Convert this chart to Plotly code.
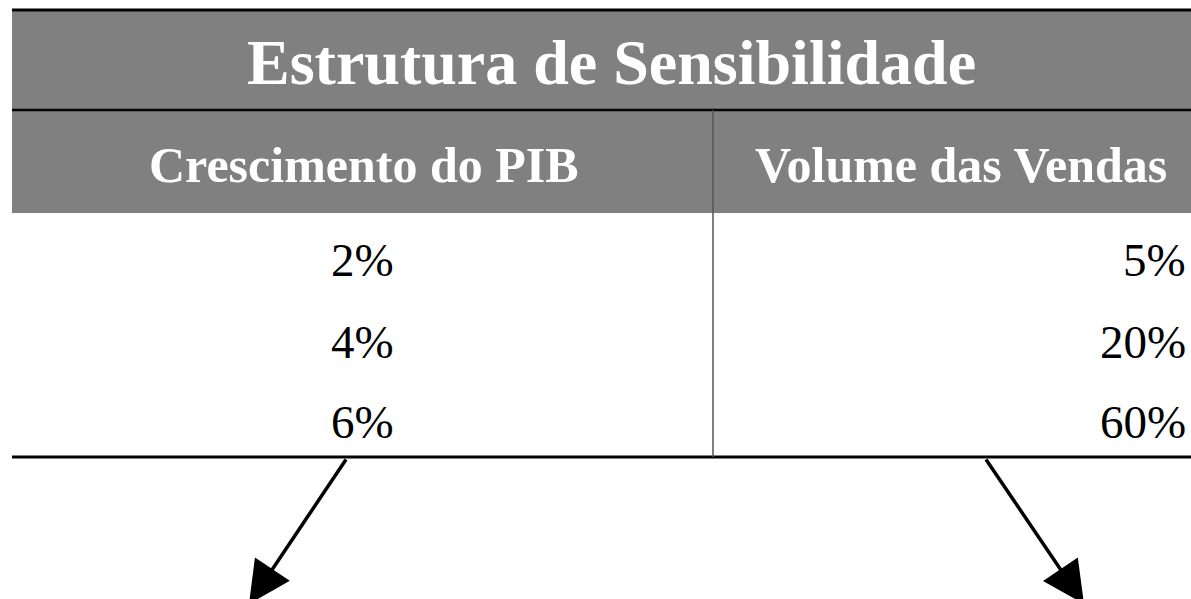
import plotly.graph_objects as go

title = "Estrutura de Sensibilidade"
headers = ["Crescimento do PIB", "Volume das Vendas"]
pib_growth = ["2%", "4%", "6%"]
sales_volume = ["5%", "20%", "60%"]

W, H = 1191, 599
FONT = "Liberation Serif, Times New Roman, serif"
GRAY = "#808080"

# table geometry (pixels, y measured from top)
left, right = 12, W + 5
y_top, y_head, y_sub, y_bottom = 10, 110, 213, 457
x_div = 713
row_y = [260, 342, 422]
col_center = 362
col_right = 1188

fig = go.Figure()

shapes = [
    dict(type="rect", x0=left, x1=right, y0=y_top, y1=y_sub, fillcolor=GRAY, line_width=0, layer="below"),
    dict(type="line", x0=left, x1=right, y0=y_top, y1=y_top, line=dict(color="black", width=3)),
    dict(type="line", x0=left, x1=right, y0=y_head, y1=y_head, line=dict(color="black", width=2.5)),
    dict(type="line", x0=left, x1=right, y0=y_bottom, y1=y_bottom, line=dict(color="black", width=3)),
    dict(type="line", x0=x_div, x1=x_div, y0=y_head, y1=y_bottom, line=dict(color="#555", width=1.5)),
]

annotations = [
    dict(x=611, y=62, text=f"<b>{title}</b>", showarrow=False,
         font=dict(family=FONT, size=64, color="white")),
    dict(x=364, y=165, text=f"<b>{headers[0]}</b>", showarrow=False,
         font=dict(family=FONT, size=50, color="white")),
    dict(x=961, y=165, text=f"<b>{headers[1]}</b>", showarrow=False,
         font=dict(family=FONT, size=50, color="white")),
]
for y, a, b in zip(row_y, pib_growth, sales_volume):
    annotations.append(dict(x=col_center, y=y, text=a, showarrow=False,
                            font=dict(family=FONT, size=47, color="black")))
    annotations.append(dict(x=col_right, y=y, text=b, showarrow=False, xanchor="right",
                            font=dict(family=FONT, size=47, color="black")))

# arrows pointing down from the table
for (x0, y0), (x1, y1) in [((347, 458), (249, 604)), ((985, 458), (1084, 604))]:
    annotations.append(dict(x=x1, y=y1, ax=x0, ay=y0, axref="x", ayref="y",
                            showarrow=True, arrowhead=2, arrowsize=2.4, arrowwidth=3.5,
                            arrowcolor="black", text=""))

fig.update_layout(
    width=W, height=H,
    margin=dict(l=0, r=0, t=0, b=0),
    plot_bgcolor="white", paper_bgcolor="white",
    xaxis=dict(range=[0, W], visible=False, fixedrange=True),
    yaxis=dict(range=[H, 0], visible=False, fixedrange=True),
    shapes=shapes, annotations=annotations,
    showlegend=False,
)
fig.write_html("out.html", config={"staticPlot": True},
               post_script="document.body.style.margin='0';")
